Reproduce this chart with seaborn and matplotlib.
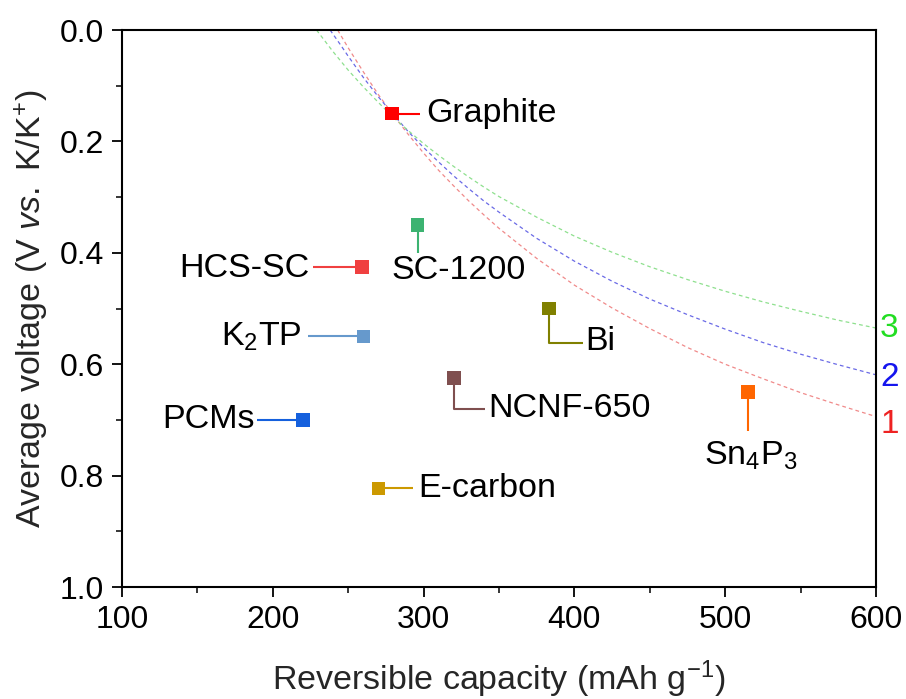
import numpy as np
import pandas as pd
import matplotlib
matplotlib.use("Agg")
import matplotlib.pyplot as plt
import matplotlib.transforms as mtransforms
import seaborn as sns

# ---------------- data ----------------
materials = ["Graphite", "SC-1200", "HCS-SC", "K$_2$TP", "Bi", "NCNF-650", "PCMs", "E-carbon", "Sn$_4$P$_3$"]
capacity = [279, 296, 259, 260, 383, 320, 220, 270, 515]
voltage = [0.15, 0.35, 0.425, 0.55, 0.50, 0.625, 0.70, 0.823, 0.65]
colors = ["#FF0000", "#3CB371", "#F04040", "#6699CC", "#808000", "#7F4F4F", "#1560DD", "#CC9900", "#FF6600"]

curve_names = ["1", "2", "3"]
curve1_x = [243, 250, 260, 270, 280, 290, 300, 310, 320, 330, 340, 350, 375, 400, 425, 450, 475, 500, 525, 550, 575, 600]
curve1_y = [0.0, 0.032, 0.075, 0.116, 0.153, 0.188, 0.221, 0.252, 0.280, 0.307, 0.332, 0.356, 0.410, 0.458,
            0.499, 0.536, 0.570, 0.600, 0.626, 0.651, 0.673, 0.694]
curve2_x = [238, 245, 250, 260, 270, 280, 290, 300, 310, 320, 330, 340, 350, 375, 400, 425, 450, 475, 500, 525, 550, 575, 600]
curve2_y = [0.0, 0.027, 0.047, 0.085, 0.120, 0.152, 0.183, 0.211, 0.237, 0.262, 0.285, 0.307, 0.327, 0.374,
            0.415, 0.451, 0.483, 0.511, 0.537, 0.561, 0.582, 0.601, 0.619]
curve3_x = [229, 240, 250, 260, 270, 280, 290, 300, 310, 320, 330, 340, 350, 375, 400, 425, 450, 475, 500, 525, 550, 575, 600]
curve3_y = [0.0, 0.039, 0.072, 0.102, 0.130, 0.157, 0.181, 0.204, 0.225, 0.245, 0.264, 0.282, 0.299, 0.336,
            0.370, 0.399, 0.425, 0.448, 0.469, 0.488, 0.505, 0.521, 0.535]
curve_colors = {"1": "#F08A8A", "2": "#6A6AE6", "3": "#8EE08E"}
curve_label_colors = {"1": "#EE2222", "2": "#1515EE", "3": "#22DD22"}

xticks = [100, 200, 300, 400, 500, 600]
yticks = [0.0, 0.2, 0.4, 0.6, 0.8, 1.0]

# ---------------- style ----------------
sns.set_style("ticks")
plt.rcParams["font.family"] = ["Liberation Sans", "DejaVu Sans"]
plt.rcParams["mathtext.fontset"] = "custom"
plt.rcParams["mathtext.rm"] = "Liberation Sans"
plt.rcParams["mathtext.it"] = "Liberation Sans:italic"
plt.rcParams["mathtext.bf"] = "Liberation Sans:bold"

fig = plt.figure(figsize=(9.06, 6.99), dpi=100)
ax = fig.add_axes([0.1347, 0.1602, 0.9669 - 0.1347, 0.957 - 0.1602])

# curves
cdf = pd.concat([
    pd.DataFrame({"x": curve1_x, "y": curve1_y, "curve": "1"}),
    pd.DataFrame({"x": curve2_x, "y": curve2_y, "curve": "2"}),
    pd.DataFrame({"x": curve3_x, "y": curve3_y, "curve": "3"}),
])
sns.lineplot(data=cdf, x="x", y="y", hue="curve", palette=curve_colors, ax=ax,
             legend=False, linewidth=0.9, sort=True, estimator=None)
for ln in ax.get_lines():
    ln.set_dashes((3, 2.5))

ax.set_xlim(100, 600)
ax.set_ylim(1.0, 0.0)

# points
pdf = pd.DataFrame({"cap": capacity, "v": voltage, "mat": materials})
pal = dict(zip(materials, colors))
sns.scatterplot(data=pdf, x="cap", y="v", hue="mat", palette=pal, marker="s",
                s=95, edgecolor="none", ax=ax, legend=False, zorder=5)

# leader line paths (in points, relative to the marker) and label offsets
leaders = {
    "Graphite": ([0, 20], [0, 0]),
    "SC-1200": ([0, 0], [0, -20.5]),
    "HCS-SC": ([0, -35], [0, 0]),
    "K$_2$TP": ([0, -39.5], [0, 0]),
    "Bi": ([0, 0, 24.5], [0, -25, -25]),
    "NCNF-650": ([0, 0, 22.3], [0, -22.3, -22.3]),
    "PCMs": ([0, -33], [0, 0]),
    "E-carbon": ([0, 25], [0, 0]),
    "Sn$_4$P$_3$": ([0, 0], [0, -28]),
}
label_pos = {
    "Graphite": ((24.5, 0), "left", "center"),
    "SC-1200": ((29.5, -33), "center", "center"),
    "HCS-SC": ((-37.5, -1), "right", "center"),
    "K$_2$TP": ((-44.5, 0), "right", "center"),
    "Bi": ((26.6, -24), "left", "center"),
    "NCNF-650": ((25, -21.6), "left", "center"),
    "PCMs": ((-35, 0), "right", "center"),
    "E-carbon": ((29, 0), "left", "center"),
    "Sn$_4$P$_3$": ((2, -52), "center", "baseline"),
}
fig.canvas.draw()
for m, x, y, c in zip(materials, capacity, voltage, colors):
    tr = mtransforms.Affine2D().scale(fig.dpi / 72.0) + mtransforms.ScaledTranslation(x, y, ax.transData)
    lx, ly = leaders[m]
    ax.plot(lx, ly, color=c, lw=1.5, transform=tr, zorder=4, solid_capstyle="butt")
    (ox, oy), ha, va = label_pos[m]
    ax.annotate(m, xy=(x, y), xytext=(ox, oy), textcoords="offset points",
                ha=ha, va=va, fontsize=24.5, color="black")

# curve labels
ends = {"1": curve1_y[-1], "2": curve2_y[-1], "3": curve3_y[-1]}
end_off = {"1": -6, "2": -2, "3": 0}
for k in curve_names:
    ax.annotate(k, xy=(600, ends[k]), xytext=(3, end_off[k]), textcoords="offset points",
                ha="left", va="center", fontsize=24, color=curve_label_colors[k],
                annotation_clip=False)

# axes
ax.set_xticks(xticks)
ax.set_yticks(yticks)
ax.set_xticklabels([str(v) for v in xticks])
ax.set_yticklabels([f"{v:.1f}" for v in yticks])
ax.xaxis.set_minor_locator(matplotlib.ticker.MultipleLocator(50))
ax.yaxis.set_minor_locator(matplotlib.ticker.MultipleLocator(0.1))
ax.tick_params(axis="both", which="major", direction="out", length=7, width=1.3,
               labelsize=23, colors="black", pad=6)
ax.tick_params(axis="both", which="minor", direction="out", length=4, width=1.3)
for s in ax.spines.values():
    s.set_visible(True)
    s.set_linewidth(1.5)
    s.set_color("black")

ax.set_xlabel("Reversible capacity (mAh g$^{-1}$)", fontsize=24.5, labelpad=17)
ax.set_ylabel("Average voltage (V $\\it{vs.}$ K/K$^{+}$)", fontsize=24.5, labelpad=6)

fig.savefig("out.png", dpi=100)
